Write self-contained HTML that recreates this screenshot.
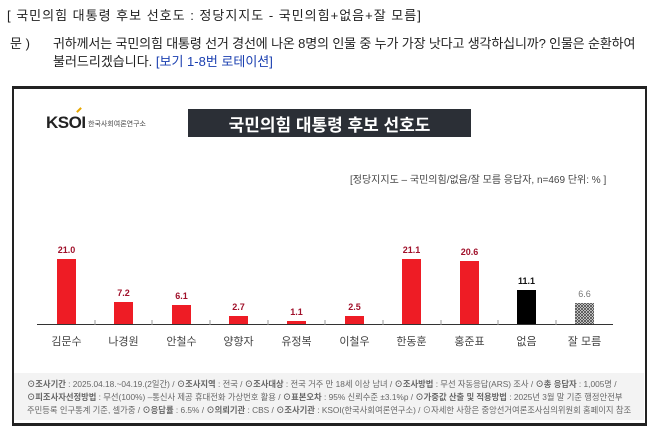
<!DOCTYPE html>
<html><head><meta charset="utf-8"><style>
*{margin:0;padding:0}
body{width:658px;height:434px;background:#fff;position:relative;overflow:hidden;font-family:"Liberation Sans","Noto Sans CJK KR",sans-serif;color:#222}
.a{position:absolute;white-space:nowrap}
</style></head><body>
<div class="a" style="left:7px;top:5px;font-size:13px;letter-spacing:1px;">[ 국민의힘 대통령 후보 선호도 : 정당지지도 - 국민의힘+없음+잘 모름]</div>
<div class="a" style="left:10px;top:33px;font-size:13px;">문 )</div>
<div class="a" style="left:53px;top:33px;font-size:13px;letter-spacing:-0.15px;">귀하께서는 국민의힘 대통령 선거 경선에 나온 8명의 인물 중 누가 가장 낫다고 생각하십니까? 인물은 순환하여</div>
<div class="a" style="left:53px;top:51px;font-size:13px;">불러드리겠습니다. <span style="color:#1a3fb0">[보기 1-8번 로테이션]</span></div>

<div class="a" style="left:12px;top:86px;width:631px;height:334px;border:2px solid #222;border-top-width:3px;border-bottom-width:3px;"></div>
<div class="a" style="left:14px;top:373px;width:630px;height:47px;background:#f3f3f3;"></div>

<div class="a" style="left:46px;top:113px;font-size:17px;font-weight:bold;color:#222;letter-spacing:-0.5px;">KSOI</div>
<div class="a" style="left:88px;top:119px;font-size:7px;color:#444;">한국사회여론연구소</div>
<div class="a" style="left:76px;top:109px;width:6px;height:2px;background:#e8a800;transform:rotate(-45deg)"></div>

<div class="a" style="left:188px;top:109px;width:283px;height:28px;background:#2b2f36;"></div>
<div class="a" style="left:188px;top:111px;width:283px;text-align:center;color:#fff;font-size:17px;font-weight:bold;">국민의힘 대통령 후보 선호도</div>
<div class="a" style="left:350px;top:171px;font-size:10px;color:#444;">[정당지지도 – 국민의힘/없음/잘 모름 응답자, n=469 단위: % ]</div>

<svg class="a" style="left:0;top:0" width="658" height="434">
<defs><pattern id="h" width="3" height="3" patternUnits="userSpaceOnUse"><rect width="3" height="3" fill="#fff"/><path d="M0 0L3 3M3 0L0 3" stroke="#444" stroke-width="0.8"/></pattern></defs>
<g font-family="Liberation Sans, sans-serif" font-size="9" font-weight="bold" text-anchor="middle">
<rect x="57" y="259" width="19" height="65" fill="#ee1c25"/><text x="66.5" y="253" fill="#a0102a">21.0</text>
<rect x="114" y="302" width="19" height="22" fill="#ee1c25"/><text x="123.5" y="296" fill="#a0102a">7.2</text>
<rect x="172" y="305" width="19" height="19" fill="#ee1c25"/><text x="181.5" y="299" fill="#a0102a">6.1</text>
<rect x="229" y="316" width="19" height="8" fill="#ee1c25"/><text x="238.5" y="310" fill="#a0102a">2.7</text>
<rect x="287" y="321" width="19" height="3" fill="#ee1c25"/><text x="296.5" y="315" fill="#a0102a">1.1</text>
<rect x="345" y="316" width="19" height="8" fill="#ee1c25"/><text x="354.5" y="310" fill="#a0102a">2.5</text>
<rect x="402" y="259" width="19" height="65" fill="#ee1c25"/><text x="411.5" y="253" fill="#a0102a">21.1</text>
<rect x="460" y="261" width="19" height="63" fill="#ee1c25"/><text x="469.5" y="255" fill="#a0102a">20.6</text>
<rect x="517" y="290" width="19" height="34" fill="#000"/><text x="526.5" y="284" fill="#111">11.1</text>
<rect x="575" y="303" width="19" height="21" fill="url(#h)"/><text x="584.5" y="297" fill="#777" font-weight="normal">6.6</text>
</g>
<line x1="37" y1="324.5" x2="613" y2="324.5" stroke="#333" stroke-width="1"/>
<g stroke="#999" stroke-width="1">
<line x1="95" y1="320" x2="95" y2="325"/><line x1="152" y1="320" x2="152" y2="325"/><line x1="210" y1="320" x2="210" y2="325"/><line x1="268" y1="320" x2="268" y2="325"/><line x1="325" y1="320" x2="325" y2="325"/><line x1="383" y1="320" x2="383" y2="325"/><line x1="441" y1="320" x2="441" y2="325"/><line x1="498" y1="320" x2="498" y2="325"/><line x1="556" y1="320" x2="556" y2="325"/>
</g>
<g font-family="Liberation Sans, Noto Sans CJK KR, sans-serif" font-size="11" fill="#444" text-anchor="middle">
<text x="66.5" y="345">김문수</text><text x="123.5" y="345">나경원</text><text x="181.5" y="345">안철수</text><text x="238.5" y="345">양향자</text><text x="296.5" y="345">유정복</text><text x="354.5" y="345">이철우</text><text x="411.5" y="345">한동훈</text><text x="469.5" y="345">홍준표</text><text x="526.5" y="345">없음</text><text x="584.5" y="345">잘 모름</text>
</g>
</svg>

<div class="a" style="left:27px;top:378px;font-size:8.3px;color:#666;line-height:13px;">
<b>⊙조사기간</b> : 2025.04.18.~04.19.(2일간) / <b>⊙조사지역</b> : 전국 / <b>⊙조사대상</b> : 전국 거주 만 18세 이상 남녀 / <b>⊙조사방법</b> : 무선 자동응답(ARS) 조사 / <b>⊙총 응답자</b> : 1,005명 /<br>
<b>⊙피조사자선정방법</b> : 무선(100%) –통신사 제공 휴대전화 가상번호 활용 / <b>⊙표본오차</b> : 95% 신뢰수준 ±3.1%p / <b>⊙가중값 산출 및 적용방법</b> : 2025년 3월 말 기준 행정안전부<br>
주민등록 인구통계 기준, 셀가중 / <b>⊙응답률</b> : 6.5% / <b>⊙의뢰기관</b> : CBS / <b>⊙조사기관</b> : KSOI(한국사회여론연구소) / ⊙자세한 사항은 중앙선거여론조사심의위원회 홈페이지 참조
</div>
</body></html>
